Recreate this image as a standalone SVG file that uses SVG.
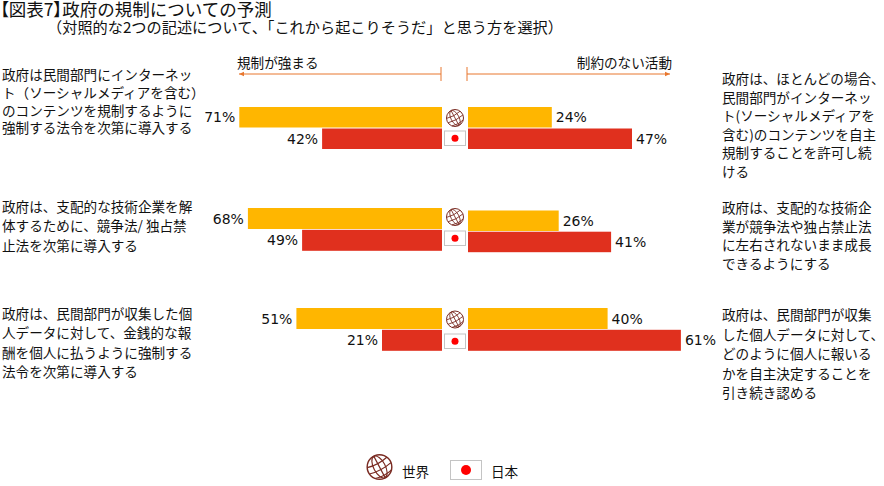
<svg xmlns="http://www.w3.org/2000/svg" width="884" height="486" viewBox="0 0 884 486">
<style>
.t{font-family:"Noto Sans CJK JP","Noto Sans",sans-serif;font-size:13.6px;fill:#111}
.ttl{font-family:"Noto Sans CJK JP","Noto Sans",sans-serif;font-size:17.5px;fill:#111}
.pa{font-feature-settings:"palt"}
.sub{font-family:"Noto Sans CJK JP","Noto Sans",sans-serif;font-size:15.2px;fill:#111}
.p{font-family:"DejaVu Sans","Noto Sans",sans-serif;font-size:14px;fill:#111}
.o{fill:#FFB600}
.r{fill:#E0301E}
.ax{stroke:#E8772E;stroke-width:1;fill:none}
.g{fill:#fff;stroke:#7a2b22;stroke-width:1}
.gl{fill:none;stroke:#7a2b22;stroke-width:0.8}
.fb{fill:#fff;stroke:#c4c4c4;stroke-width:1}
.fd{fill:#ff0000}
</style>
<defs>
<marker id="ah" markerWidth="6" markerHeight="6" refX="5" refY="3" orient="auto" markerUnits="userSpaceOnUse">
<path d="M0,0.8 L5,3 L0,5.2 Z" fill="#E8772E"/>
</marker>
<g id="globe">
<circle class="g" r="8.5"/>
<g transform="rotate(-28)">
<ellipse class="gl" rx="4" ry="8.3"/>
<line class="gl" x1="0" y1="-8.3" x2="0" y2="8.3"/>
<path class="gl" d="M-7.6,-3.6 Q0,-1.6 7.6,-3.6"/>
<path class="gl" d="M-8.4,1 Q0,3 8.4,1"/>
<path class="gl" d="M-6.4,5.6 Q0,7.4 6.4,5.6"/>
</g>
</g>
</defs>

<g id="title">
<text class="ttl" x="0" y="15.5"><tspan class="pa">【</tspan>図表7<tspan class="pa">】</tspan>政府の規制についての予測</text>
<text class="sub" x="47" y="32.5">（対照的な2つの記述について、「これから起こりそうだ」と思う方を選択）</text>
</g>

<g id="axis">
<line class="ax" x1="441" y1="74" x2="239" y2="74" marker-end="url(#ah)"/>
<line class="ax" x1="441" y1="67" x2="441" y2="81"/>
<line class="ax" x1="467" y1="74" x2="670" y2="74" marker-end="url(#ah)"/>
<line class="ax" x1="467" y1="67" x2="467" y2="81"/>
<text class="t" x="237" y="67.5">規制が強まる</text>
<text class="t" x="672" y="67.5" text-anchor="end">制約のない活動</text>
</g>

<g id="row1">
<text class="t"><tspan x="2" y="80">政府は民間部門にインターネッ</tspan><tspan x="2" y="97.8">ト（ソーシャルメディアを含む）</tspan><tspan x="2" y="115.6">のコンテンツを規制するように</tspan><tspan x="2" y="133.4">強制する法令を次第に導入する</tspan></text>
<rect class="o" x="239.3" y="107" width="202.7" height="20.5"/>
<rect class="r" x="322.1" y="128.5" width="119.9" height="20.5"/>
<rect class="o" x="468" y="107" width="83.8" height="20.5"/>
<rect class="r" x="468" y="128.5" width="164" height="20.5"/>
<text class="p" x="235.3" y="122.3" text-anchor="end">71%</text>
<text class="p" x="318.1" y="143.8" text-anchor="end">42%</text>
<text class="p" x="555.8" y="122.3">24%</text>
<text class="p" x="636" y="143.8">47%</text>
<use href="#globe" x="455" y="118"/>
<rect class="fb" x="444.5" y="131" width="21" height="14.5"/>
<circle class="fd" cx="455" cy="138.2" r="3.5"/>
<text class="t"><tspan x="722" y="84">政府は、ほとんどの場合、</tspan><tspan x="722" y="102.6">民間部門がインターネッ</tspan><tspan x="722" y="121.2">ト(ソーシャルメディアを</tspan><tspan x="722" y="139.8">含む)のコンテンツを自主</tspan><tspan x="722" y="158.4">規制することを許可し続</tspan><tspan x="722" y="177">ける</tspan></text>
</g>

<g id="row2">
<text class="t"><tspan x="2" y="211.5">政府は、支配的な技術企業を解</tspan><tspan x="2" y="231.3">体するために、競争法/ 独占禁</tspan><tspan x="2" y="251">止法を次第に導入する</tspan></text>
<rect class="o" x="247.9" y="208" width="194.1" height="21"/>
<rect class="r" x="302.1" y="229.8" width="139.9" height="21"/>
<rect class="o" x="468" y="210.5" width="90.7" height="20.5"/>
<rect class="r" x="468" y="231.7" width="143.1" height="20.5"/>
<text class="p" x="243.9" y="223.6" text-anchor="end">68%</text>
<text class="p" x="298.1" y="245.4" text-anchor="end">49%</text>
<text class="p" x="562.7" y="225.8">26%</text>
<text class="p" x="615.1" y="247">41%</text>
<use href="#globe" x="455" y="217"/>
<rect class="fb" x="444.5" y="231" width="21" height="14.5"/>
<circle class="fd" cx="455" cy="238.2" r="3.5"/>
<text class="t"><tspan x="722" y="213">政府は、支配的な技術企</tspan><tspan x="722" y="231.7">業が競争法や独占禁止法</tspan><tspan x="722" y="250.4">に左右されないまま成長</tspan><tspan x="722" y="269">できるようにする</tspan></text>
</g>

<g id="row3">
<text class="t"><tspan x="2" y="319">政府は、民間部門が収集した個</tspan><tspan x="2" y="338.3">人データに対して、金銭的な報</tspan><tspan x="2" y="357.6">酬を個人に払うように強制する</tspan><tspan x="2" y="377">法令を次第に導入する</tspan></text>
<rect class="o" x="296.4" y="308" width="145.6" height="21"/>
<rect class="r" x="382" y="329.8" width="60" height="21"/>
<rect class="o" x="468" y="308" width="139.6" height="21"/>
<rect class="r" x="468" y="329.8" width="212.9" height="21"/>
<text class="p" x="292.4" y="323.6" text-anchor="end">51%</text>
<text class="p" x="378" y="345.4" text-anchor="end">21%</text>
<text class="p" x="611.6" y="323.6">40%</text>
<text class="p" x="684.9" y="345.4">61%</text>
<use href="#globe" x="455" y="319.5"/>
<rect class="fb" x="444.5" y="334" width="21" height="14.5"/>
<circle class="fd" cx="455" cy="341.2" r="3.5"/>
<text class="t"><tspan x="722" y="320">政府は、民間部門が収集</tspan><tspan x="722" y="339.6">した個人データに対して、</tspan><tspan x="722" y="359.2">どのように個人に報いる</tspan><tspan x="722" y="378.8">かを自主決定することを</tspan><tspan x="722" y="398.4">引き続き認める</tspan></text>
</g>

<g id="legend">
<use href="#globe" transform="translate(379.5,467) scale(1.45)"/>
<text class="t" x="402" y="477">世界</text>
<rect class="fb" x="450.5" y="460.5" width="31" height="19"/>
<circle class="fd" cx="466" cy="470" r="5"/>
<text class="t" x="491" y="477">日本</text>
</g>
</svg>
